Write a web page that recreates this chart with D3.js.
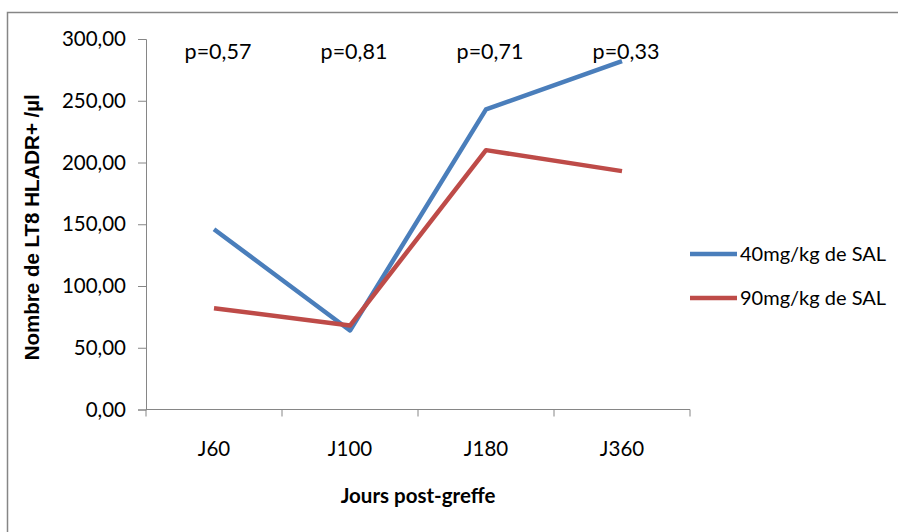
<!DOCTYPE html>
<html>
<head>
<meta charset="utf-8">
<script src="https://cdn.jsdelivr.net/npm/d3@7"></script>
<style>
  html, body { margin: 0; padding: 0; background: #fff; }
  svg { display: block; }
</style>
</head>
<body>
<svg id="chart" width="898" height="532"></svg>
<script>
const categories = ["J60", "J100", "J180", "J360"];
const series40 = [146, 64, 243, 282];
const series90 = [82, 68, 210, 193];
const seriesNames = ["40mg/kg de SAL", "90mg/kg de SAL"];
const pLabels = ["p=0,57", "p=0,81", "p=0,71", "p=0,33"];
const yTicks = [0, 50, 100, 150, 200, 250, 300];
const yTitle = "Nombre de LT8 HLADR+ /µl";
const xTitle = "Jours post-greffe";

const colors = ["#4A7EBB", "#BE4B48"];
const axisColor = "#868686";
const fontBody = "Lato, 'Open Sans', sans-serif";

const svg = d3.select("#chart");

// outer chart-area border (extends beyond right/bottom of the picture)
svg.append("rect")
  .attr("x", 7.5).attr("y", 12.5)
  .attr("width", 1000).attr("height", 1000)
  .attr("fill", "#fff")
  .attr("stroke", axisColor).attr("stroke-width", 1.5);

const plot = { left: 146, right: 690, top: 39, bottom: 409.5 };

const x = d3.scaleBand().domain(categories).range([plot.left, plot.right]).padding(0);
const y = d3.scaleLinear().domain([0, 300]).range([plot.bottom, plot.top]);

const fmt = v => d3.format(".2f")(v).replace(".", ",");

// Y axis
const yAxis = svg.append("g")
  .attr("transform", `translate(${plot.left},0)`)
  .call(d3.axisLeft(y).tickValues(yTicks).tickFormat(fmt).tickSize(8).tickPadding(12));
yAxis.select(".domain").attr("stroke", axisColor).attr("stroke-width", 1);
yAxis.selectAll(".tick line").attr("stroke", axisColor);
yAxis.selectAll(".tick text")
  .attr("fill", "#000")
  .style("font-family", fontBody)
  .style("font-size", "20.5px");

// X axis: ticks at category boundaries, labels at category centres
const xAxisG = svg.append("g").attr("transform", `translate(0,${plot.bottom})`);
xAxisG.append("line")
  .attr("x1", plot.left).attr("x2", plot.right)
  .attr("y1", 0).attr("y2", 0)
  .attr("stroke", axisColor);
const boundaries = categories.map(c => x(c)).concat([x(categories[categories.length - 1]) + x.bandwidth()]);
xAxisG.selectAll("line.tk").data(boundaries).enter().append("line")
  .attr("class", "tk")
  .attr("x1", d => d).attr("x2", d => d)
  .attr("y1", 0).attr("y2", 7)
  .attr("stroke", axisColor);
xAxisG.selectAll("text.lbl").data(categories).enter().append("text")
  .attr("class", "lbl")
  .attr("x", d => x(d) + x.bandwidth() / 2)
  .attr("y", 46)
  .attr("text-anchor", "middle")
  .style("font-family", fontBody)
  .style("font-size", "20.5px")
  .attr("fill", "#000")
  .text(d => d);

// lines
const line = d3.line()
  .x((d, i) => x(categories[i]) + x.bandwidth() / 2)
  .y(d => y(d));
[series40, series90].forEach((s, k) => {
  svg.append("path")
    .datum(s)
    .attr("d", line)
    .attr("fill", "none")
    .attr("stroke", colors[k])
    .attr("stroke-width", 4.5)
    .attr("stroke-linejoin", "round");
});

// p-value labels
svg.selectAll("text.p").data(pLabels).enter().append("text")
  .attr("class", "p")
  .attr("x", (d, i) => x(categories[i]) + x.bandwidth() / 2 + 4)
  .attr("y", 59)
  .attr("text-anchor", "middle")
  .style("font-family", fontBody)
  .style("font-size", "21.5px")
  .attr("fill", "#000")
  .text(d => d);

// legend
const legend = svg.append("g");
seriesNames.forEach((name, k) => {
  const ly = 254 + k * 44;
  legend.append("line")
    .attr("x1", 690).attr("x2", 737)
    .attr("y1", ly).attr("y2", ly)
    .attr("stroke", colors[k]).attr("stroke-width", 4.5);
  legend.append("text")
    .attr("x", 740).attr("y", ly)
    .attr("dy", "0.36em")
    .style("font-family", fontBody)
    .style("font-size", "20px")
    .attr("fill", "#000")
    .text(name);
});

// axis titles
svg.append("text")
  .attr("transform", `translate(39,${(plot.top + plot.bottom) / 2 + 3}) rotate(-90)`)
  .attr("text-anchor", "middle")
  .style("font-family", "'Liberation Sans', Arial, sans-serif")
  .style("font-weight", "bold")
  .style("font-size", "20.5px")
  .attr("fill", "#000")
  .text(yTitle);

svg.append("text")
  .attr("x", (plot.left + plot.right) / 2)
  .attr("y", 503)
  .attr("text-anchor", "middle")
  .style("font-family", fontBody)
  .style("font-weight", "bold")
  .style("font-size", "20.5px")
  .attr("fill", "#000")
  .text(xTitle);
</script>
</body>
</html>
